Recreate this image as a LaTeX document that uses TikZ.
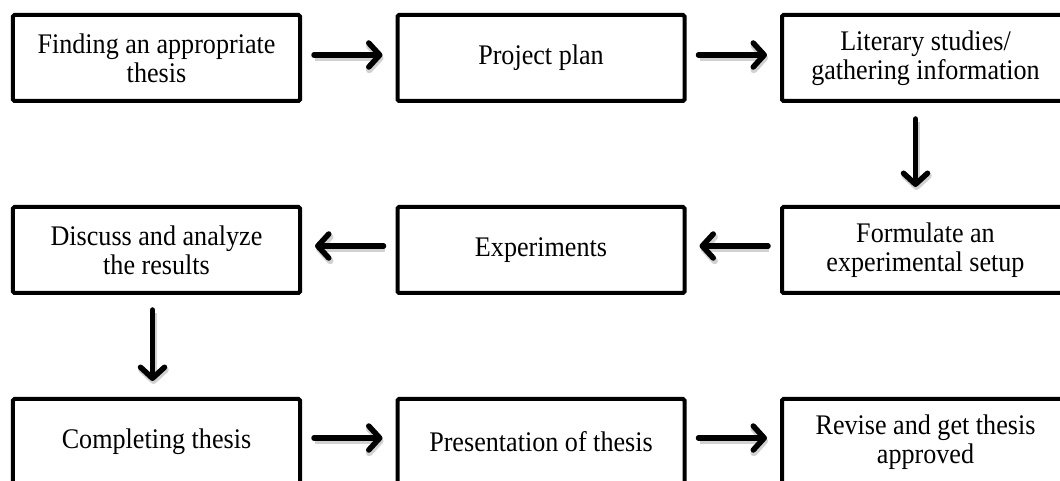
\documentclass[tikz,border=0pt]{standalone}
\usepackage{fontspec}
\setmainfont{Liberation Serif}[FakeStretch=0.92]
\usetikzlibrary{arrows.meta}
\begin{document}
\begin{tikzpicture}[x=1bp,y=-1bp,
  stepbox/.style={draw=black, line width=4bp, rounded corners=1.5bp, fill=white,
    minimum width=287bp, minimum height=86bp, align=center, inner sep=0pt,
    font=\fontsize{28.5}{29}\selectfont},
  flow/.style={line width=5.5bp, line cap=round, draw=black,
    -{Straight Barb[length=11bp, width=24bp, line cap=round, line join=round]},
    preaction={draw=black!18, line width=6.5bp,
      transform canvas={shift={(1bp,-3bp)}}},
    shorten <=12bp, shorten >=13bp}]
\useasboundingbox (0,0) rectangle (1060,481);
\clip (0,0) rectangle (1060,481);
\fill[white] (0,0) rectangle (1060,481);
% row 1
\node[stepbox] (b1) at (156.5,58) {Finding an appropriate\\thesis};
\node[stepbox] (b2) at (541,58) {Project plan};
\node[stepbox] (b3) at (925.5,58) {Literary studies/\\gathering information};
% row 2
\node[stepbox] (b4) at (925.5,250) {Formulate an\\experimental setup};
\node[stepbox] (b5) at (541,250) {Experiments};
\node[stepbox] (b6) at (156.5,250) {Discuss and analyze\\the results};
% row 3
\node[stepbox] (b7) at (156.5,442) {Completing thesis};
\node[stepbox] (b8) at (541,442) {Presentation of thesis};
\node[stepbox] (b9) at (925.5,442) {Revise and get thesis\\approved};
% connectors
\draw[flow] ([yshift=3bp]b1.east) -- ([yshift=3bp]b2.west);
\draw[flow] ([yshift=3bp]b2.east) -- ([yshift=3bp]b3.west);
\draw[flow, shorten <=16bp, shorten >=18bp] ([xshift=-10bp]b3.south) -- ([xshift=-10bp]b4.north);
\draw[flow] ([yshift=4bp]b4.west) -- ([yshift=4bp]b5.east);
\draw[flow] ([yshift=4bp]b5.west) -- ([yshift=4bp]b6.east);
\draw[flow, shorten <=15bp, shorten >=16bp] ([xshift=-4bp]b6.south) -- ([xshift=-4bp]b7.north);
\draw[flow] ([yshift=4bp]b7.east) -- ([yshift=4bp]b8.west);
\draw[flow] ([yshift=4bp]b8.east) -- ([yshift=4bp]b9.west);
\end{tikzpicture}
\end{document}
